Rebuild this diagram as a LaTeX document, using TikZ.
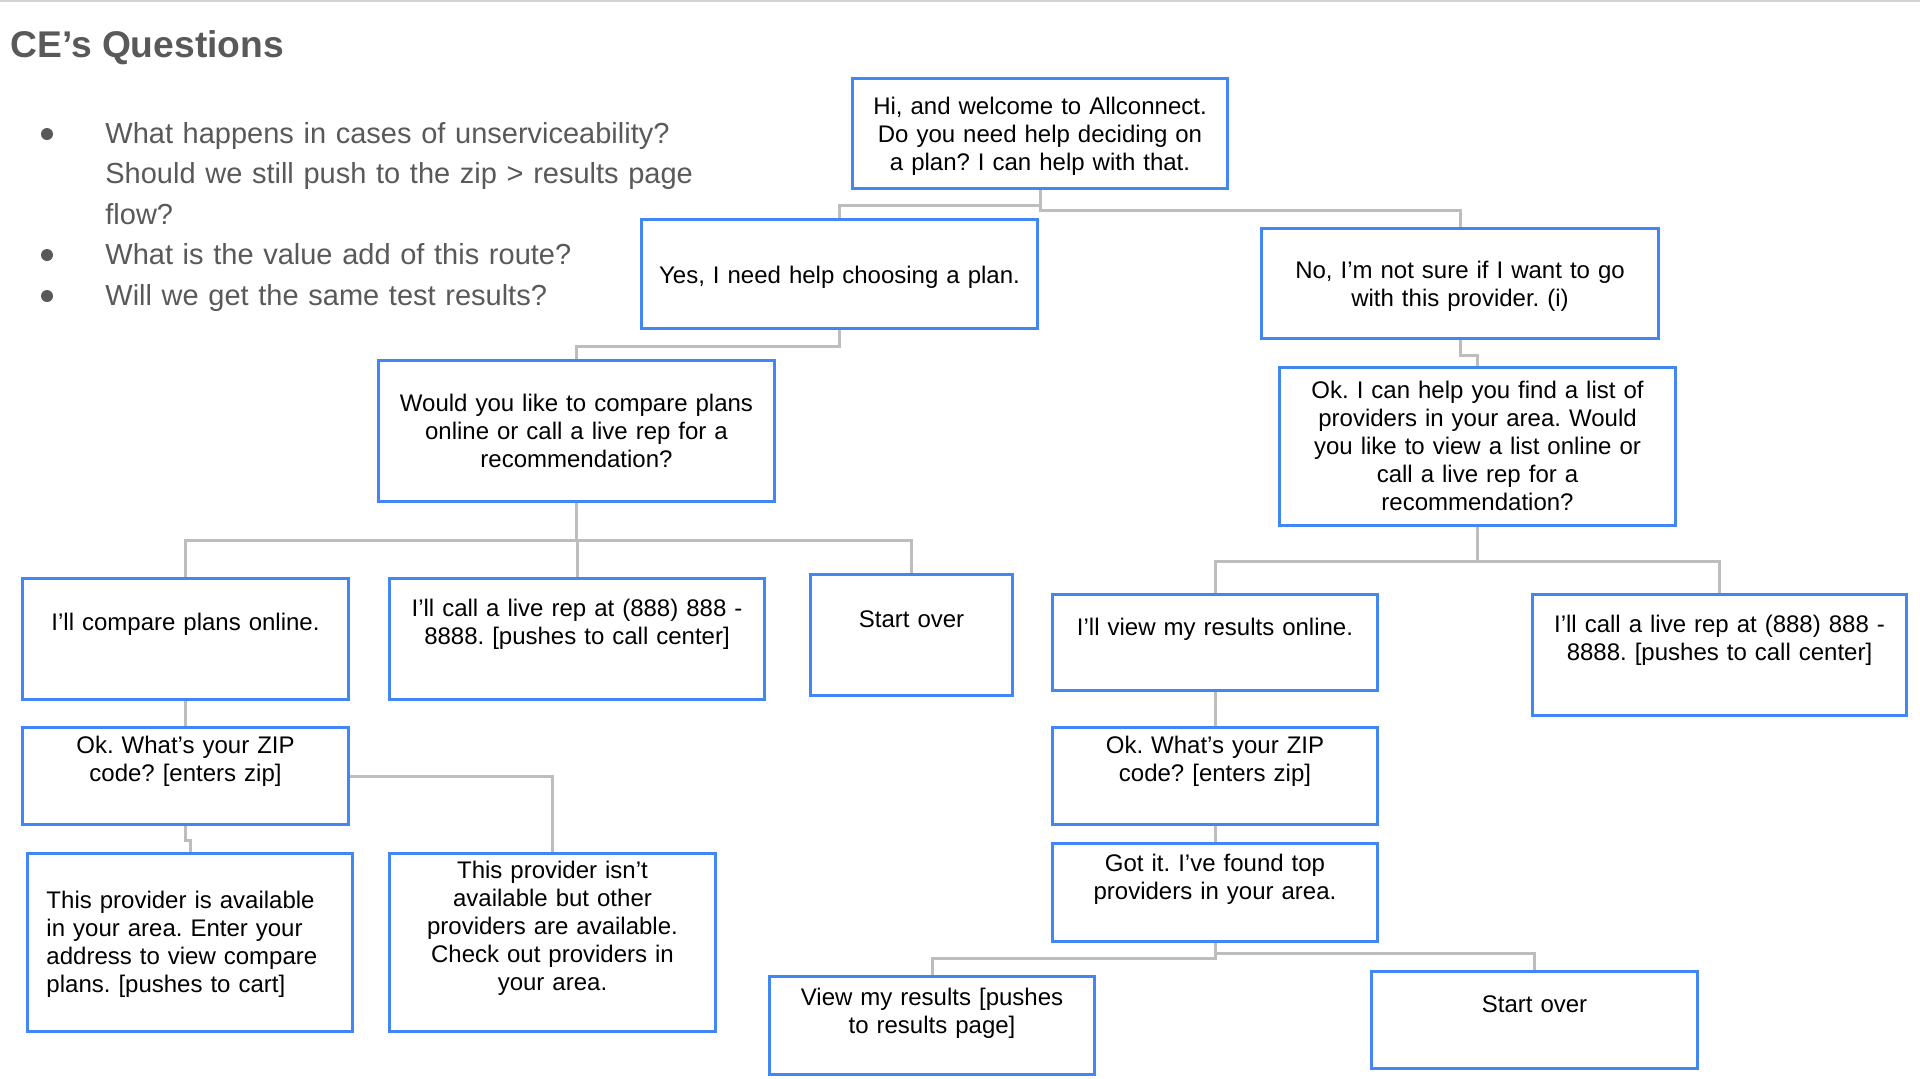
\documentclass[tikz,border=0pt]{standalone}
\usepackage{fontspec}
\setmainfont{Liberation Sans}
\usepackage{tikz}
\frenchspacing

\definecolor{gblue}{HTML}{4285F4}
\definecolor{lgray}{HTML}{BDBDBD}
\definecolor{qgray}{HTML}{595959}
\definecolor{rulegray}{HTML}{D3D3D3}

\begin{document}
\begin{tikzpicture}[x=0.5pt,y=-0.5pt,
  chat/.style={draw=gblue, line width=1.5pt, anchor=north west, inner sep=0pt, align=center, font=\fontsize{12pt}{14pt}\selectfont},
  link/.style={draw=lgray, line width=1.5pt},
  qline/.style={anchor=base west, inner sep=0pt, text width=360pt, align=left, text=qgray, font=\fontsize{14.5pt}{20.25pt}\selectfont},
  qdot/.style={circle, fill=qgray, inner sep=0pt, minimum size=6pt}]
  \useasboundingbox (0,0) rectangle (1920,1078);
  \draw[rulegray, line width=1pt] (0,1) -- (1920,1);

  \node[anchor=base west, inner sep=0pt, text=qgray, font=\fontsize{18.6pt}{20pt}\selectfont\bfseries] (title) at (10,57) {CE’s Questions};
  \node[qline] (q1) at (105,143) {What happens in cases of unserviceability?\\Should we still push to the zip > results page\\flow?};
  \node[qline] (q2) at (105,264) {What is the value add of this route?};
  \node[qline] (q3) at (105,305) {Will we get the same test results?};
  \foreach \y [count=\i] in {134,255,296}
    \node[qdot] (dot\i) at (47,\y) {};

  \node[chat, text width=187.5pt, text height=18pt, text depth=37pt] (hi) at (851,77)
    {Hi, and welcome to Allconnect.\\Do you need help deciding on\\a plan? I can help with that.};
  \node[chat, text width=198pt, text height=32pt, text depth=22.5pt] (yes) at (640,218)
    {Yes, I need help choosing a plan.};
  \node[chat, text width=198.5pt, text height=25pt, text depth=30pt] (no) at (1260,227)
    {No, I’m not sure if I want to go\\with this provider. (i)};
  \node[chat, text width=198pt, text height=25.5pt, text depth=45pt] (would) at (377,359)
    {Would you like to compare plans\\online or call a live rep for a\\recommendation?};
  \node[chat, text width=198pt, text height=15.5pt, text depth=63.5pt] (oklist) at (1278,366)
    {Ok. I can help you find a list of\\providers in your area. Would\\you like to view a list online or\\call a live rep for a\\recommendation?};

  \node[chat, text width=163pt, text height=26pt, text depth=34.5pt] (compare) at (21,577)
    {I’ll compare plans online.};
  \node[chat, text width=187.5pt, text height=19pt, text depth=41.5pt] (callL) at (388,577)
    {I’ll call a live rep at (888) 888 -\\8888. [pushes to call center]};
  \node[chat, text width=101pt, text height=26.5pt, text depth=34pt] (startL) at (809,573)
    {Start over};
  \node[chat, text width=162.5pt, text height=20.5pt, text depth=27.5pt] (viewon) at (1051,593)
    {I’ll view my results online.};
  \node[chat, text width=187pt, text height=19pt, text depth=41.5pt] (callR) at (1531,593)
    {I’ll call a live rep at (888) 888 -\\8888. [pushes to call center]};

  \node[chat, text width=163pt, text height=13pt, text depth=35.5pt] (zipL) at (21,726)
    {Ok. What’s your ZIP\\code? [enters zip]};
  \node[chat, text width=162.5pt, text height=13pt, text depth=35.5pt] (zipR) at (1051,726)
    {Ok. What’s your ZIP\\code? [enters zip]};
  \node[chat, align=left, inner xsep=9.5pt, text width=143.5pt, text height=27.5pt, text depth=61.5pt] (avail) at (26,852)
    {This provider is available\\in your area. Enter your\\address to view compare\\plans. [pushes to cart]};
  \node[chat, text width=163pt, text height=12.5pt, text depth=76.5pt] (isnt) at (388,852)
    {This provider isn’t\\available but other\\providers are available.\\Check out providers in\\your area.};
  \node[chat, text width=162.5pt, text height=14pt, text depth=35pt] (gotit) at (1051,842)
    {Got it. I’ve found top\\providers in your area.};
  \node[chat, text width=162.5pt, text height=14.5pt, text depth=34.5pt] (viewres) at (768,975)
    {View my results [pushes\\to results page]};
  \node[chat, text width=163pt, text height=20.5pt, text depth=28pt] (startR) at (1370,970)
    {Start over};

  \draw[link] (hi.south) -- ++(0,15) -| (yes.north);
  \draw[link] (hi.south) -- ++(0,20) -| (no.north);
  \draw[link] (yes.south) -- ++(0,16) -| (would.north);
  \draw[link] (no.south) -- ++(0,15) -| (oklist.north);
  \foreach \kid in {compare,callL,startL}
    \draw[link] (would.south) -- ++(0,37) -| (\kid.north);
  \foreach \kid in {viewon,callR}
    \draw[link] (oklist.south) -- ++(0,34) -| (\kid.north);
  \draw[link] (compare.south) -- (zipL.north);
  \draw[link] (zipL.south) -- ++(0,14) -| (avail.north);
  \draw[link] (zipL.east) -| (isnt.north);
  \draw[link] (viewon.south) -- (zipR.north);
  \draw[link] (zipR.south) -- (gotit.north);
  \draw[link] (gotit.south) -- ++(0,15) -| (viewres.north);
  \draw[link] (gotit.south) -- ++(0,10) -| (startR.north);
\end{tikzpicture}
\end{document}
